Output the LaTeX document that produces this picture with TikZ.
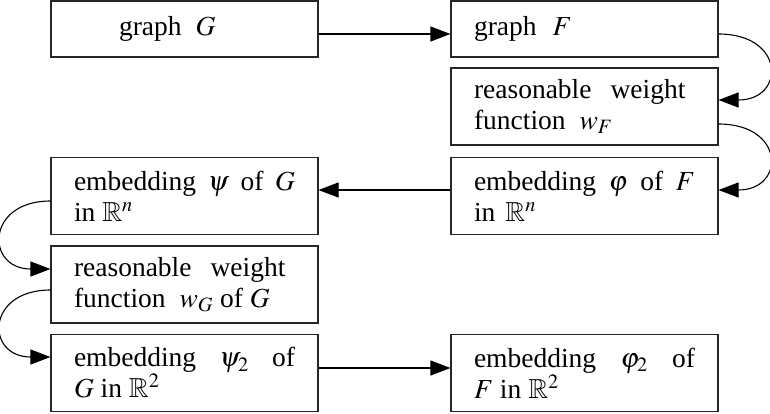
\documentclass[tikz,border=0pt]{standalone}
\usepackage{mathptmx}
\usepackage{amssymb}
\usepackage{fontspec}
\setmainfont{Liberation Serif}
\usetikzlibrary{arrows.meta,calc}
\begin{document}
\begin{tikzpicture}[x=1pt,y=1pt,
  box/.style={draw=black!85,line width=1.1pt,minimum width=267pt,text width=221pt,
    inner xsep=23pt,inner ysep=0pt,align=justify,font=\fontsize{27.5}{31}\selectfont},
  onebox/.style={box,minimum height=56pt},
  twobox/.style={box,minimum height=77pt},
  arr/.style={line width=1.1pt,-{Triangle[length=20pt,width=15pt]}}]
\useasboundingbox (0,0) rectangle (770,-413);
\node[onebox] (G) at (184.5,-29) {\hspace*{45pt}graph\hspace{14pt}$G$};
\node[onebox] (F) at (584.5,-29) {graph\hspace{16pt}$F$};
\node[twobox] (wF) at (584.5,-106.5) {reasonable\hspace{19pt}weight\newline function\hspace{14pt}$w_F$};
\node[twobox] (phi) at (584.5,-196) {embedding $\varphi$ of $F$\linebreak in\hspace{10pt}$\mathbb{R}^n$};
\node[twobox] (psi) at (184.5,-196) {embedding $\psi$ of $G$\linebreak in $\mathbb{R}^n$};
\node[twobox] (wG) at (184.5,-284.5) {reasonable\hspace{19pt}weight\newline function\hspace{14pt}$w_G$ of $G$};
\node[twobox] (psi2) at (184.5,-373) {embedding $\psi_2$ of\linebreak $G$ in $\mathbb{R}^2$};
\node[twobox] (phi2) at (584.5,-373) {embedding $\varphi_2$ of\linebreak $F$ in $\mathbb{R}^2$};
\draw[arr] ([yshift=-5pt]G.east) -- ([yshift=-5pt]F.west);
\draw[arr] ([yshift=-5pt]F.east) .. controls +(67,0) and +(67,0) .. ([yshift=6.5pt]wF.east);
\draw[arr] ([yshift=-17.5pt]wF.east) .. controls +(67,0) and +(67,0) .. ([yshift=6pt]phi.east);
\draw[arr] ([yshift=6pt]phi.west) -- ([yshift=6pt]psi.east);
\draw[arr] ([yshift=-5pt]psi.west) .. controls +(-65,0) and +(-65,0) .. ([yshift=15.5pt]wG.west);
\draw[arr] ([yshift=-5.5pt]wG.west) .. controls +(-65,0) and +(-65,0) .. ([yshift=16pt]psi2.west);
\draw[arr] ([yshift=5pt]psi2.east) -- ([yshift=5pt]phi2.west);
\end{tikzpicture}
\end{document}
